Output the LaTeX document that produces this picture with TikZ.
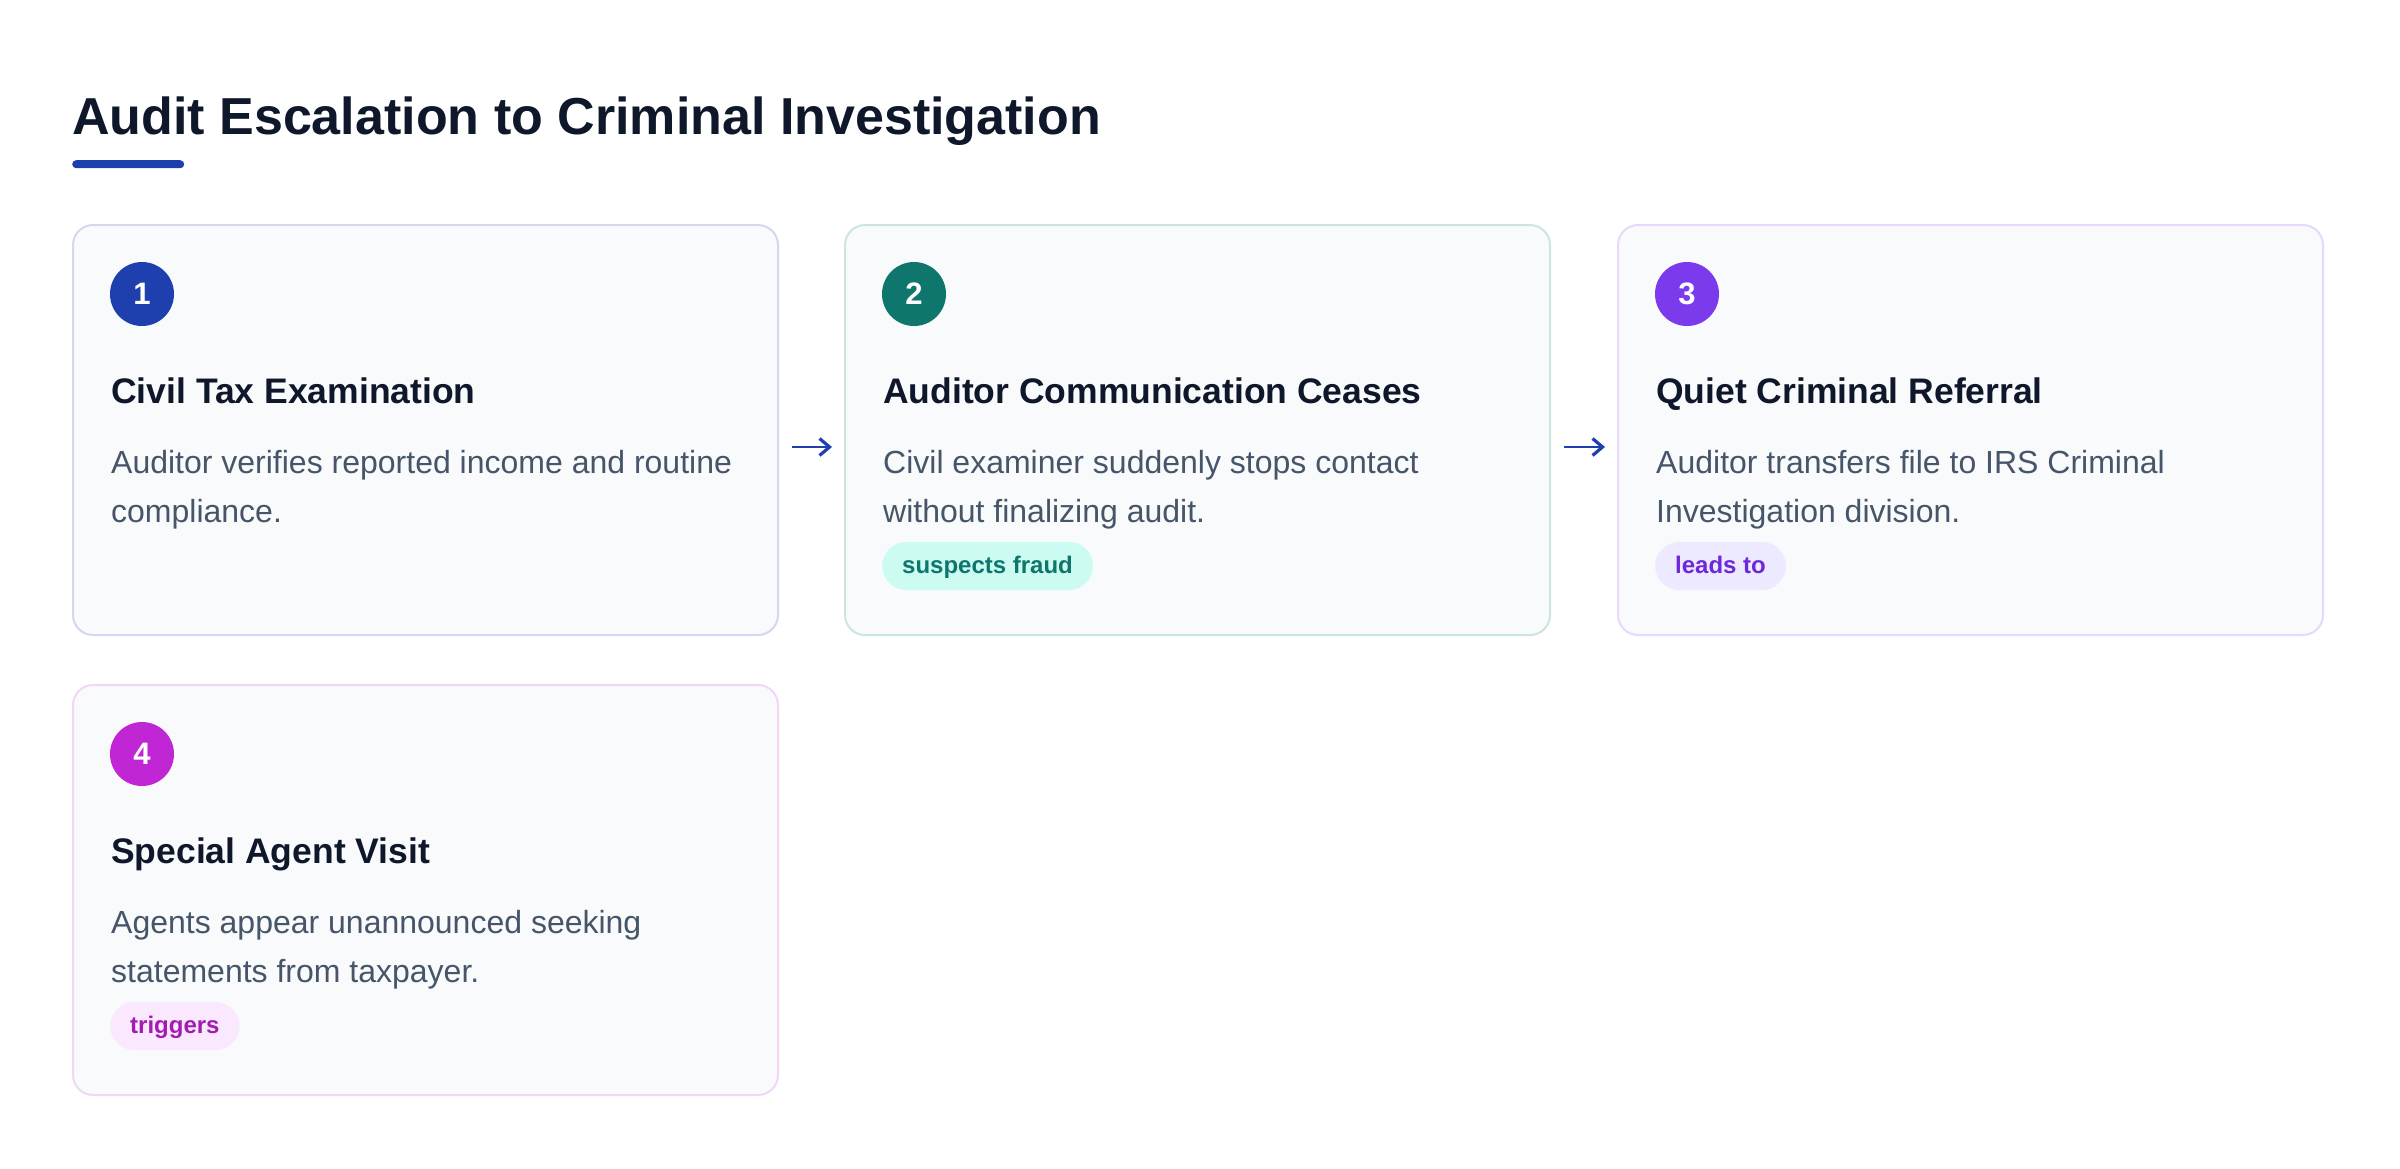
\documentclass[tikz,border=0pt]{standalone}
\usepackage{fontspec}
\setmainfont{Liberation Sans}
\usetikzlibrary{arrows.meta}
\definecolor{ink}{HTML}{0F172A}
\definecolor{muted}{HTML}{475569}
\definecolor{cardbg}{HTML}{F8FAFC}
\definecolor{blue1}{HTML}{1E40AF}
\definecolor{teal1}{HTML}{0F766E}
\definecolor{purp1}{HTML}{7C3AED}
\definecolor{mag1}{HTML}{C026D3}
\definecolor{bd1}{RGB}{210,217,239}
\definecolor{bd2}{RGB}{205,228,226}
\definecolor{bd3}{RGB}{229,218,251}
\definecolor{bd4}{RGB}{242,214,246}
\definecolor{tealbg}{HTML}{CCFBF1}
\definecolor{tealtx}{HTML}{0F766E}
\definecolor{purpbg}{HTML}{EDE9FE}
\definecolor{purptx}{HTML}{6D28D9}
\definecolor{magbg}{HTML}{FAE8FF}
\definecolor{magtx}{HTML}{A21CAF}
\tikzset{
  card/.style={draw=#1, line width=2pt, fill=cardbg, rounded corners=20pt,
    minimum width=705pt, minimum height=410pt, inner sep=0pt, outer sep=0pt, anchor=north west},
  numc/.style={circle, fill=#1, minimum size=64pt, inner sep=0pt, text=white,
    font=\fontsize{31}{31}\selectfont\bfseries},
  head/.style={anchor=base west, inner sep=0pt, text=ink, font=\fontsize{35.5}{43}\selectfont\bfseries},
  desc/.style={anchor=base west, inner sep=0pt, text=muted, font=\fontsize{32}{49}\selectfont},
  pill/.style={anchor=west, rounded corners=24pt, minimum height=48pt, inner xsep=20pt, inner ysep=0pt,
    text height=18pt, text depth=4pt, font=\fontsize{24}{28}\selectfont\bfseries},
  arr/.style={draw=blue1, line width=2.8pt, -{Straight Barb[length=10pt,width=17pt,line width=3.2pt]},
    shorten <=14pt, shorten >=13pt},
}
\begin{document}
\begin{tikzpicture}[x=1pt, y=-1pt]
\path[use as bounding box, fill=white] (0,0) rectangle (2400,1168);

% title
\node[anchor=base west, inner sep=0pt, text=ink, font=\fontsize{52}{62}\selectfont\bfseries]
  (title) at (72,134) {Audit Escalation to Criminal Investigation};
\node[anchor=north west, fill=blue1, rounded corners=4pt, minimum width=112pt, minimum height=8pt,
  inner sep=0pt] (bar) at (72,160) {};

% cards
\node[card=bd1] (c1) at (73,225) {};
\node[card=bd2] (c2) at (845,225) {};
\node[card=bd3] (c3) at (1618,225) {};
\node[card=bd4] (c4) at (73,685) {};

% card 1
\node[numc=blue1] (n1) at ([xshift=69pt,yshift=-69pt]c1.north west) {1};
\node[head] (h1) at ([xshift=38pt,yshift=-178pt]c1.north west) {Civil Tax Examination};
\node[desc] (d1a) at ([xshift=38pt,yshift=-248pt]c1.north west) {Auditor verifies reported income and routine};
\node[desc] (d1b) at ([xshift=38pt,yshift=-297pt]c1.north west) {compliance.};

% card 2
\node[numc=teal1] (n2) at ([xshift=69pt,yshift=-69pt]c2.north west) {2};
\node[head] (h2) at ([xshift=38pt,yshift=-178pt]c2.north west) {Auditor Communication Ceases};
\node[desc] (d2a) at ([xshift=38pt,yshift=-248pt]c2.north west) {Civil examiner suddenly stops contact};
\node[desc] (d2b) at ([xshift=38pt,yshift=-297pt]c2.north west) {without finalizing audit.};
\node[pill, fill=tealbg, text=tealtx] (p2) at ([xshift=37pt,yshift=-341pt]c2.north west) {suspects fraud};

% card 3
\node[numc=purp1] (n3) at ([xshift=69pt,yshift=-69pt]c3.north west) {3};
\node[head] (h3) at ([xshift=38pt,yshift=-178pt]c3.north west) {Quiet Criminal Referral};
\node[desc] (d3a) at ([xshift=38pt,yshift=-248pt]c3.north west) {Auditor transfers file to IRS Criminal};
\node[desc] (d3b) at ([xshift=38pt,yshift=-297pt]c3.north west) {Investigation division.};
\node[pill, fill=purpbg, text=purptx] (p3) at ([xshift=37pt,yshift=-341pt]c3.north west) {leads to};

% card 4
\node[numc=mag1] (n4) at ([xshift=69pt,yshift=-69pt]c4.north west) {4};
\node[head] (h4) at ([xshift=38pt,yshift=-178pt]c4.north west) {Special Agent Visit};
\node[desc] (d4a) at ([xshift=38pt,yshift=-248pt]c4.north west) {Agents appear unannounced seeking};
\node[desc] (d4b) at ([xshift=38pt,yshift=-297pt]c4.north west) {statements from taxpayer.};
\node[pill, fill=magbg, text=magtx] (p4) at ([xshift=37pt,yshift=-341pt]c4.north west) {triggers};

% connectors
\draw[arr] ([yshift=-17pt]c1.east) -- ([yshift=-17pt]c2.west);
\draw[arr] ([yshift=-17pt]c2.east) -- ([yshift=-17pt]c3.west);
\end{tikzpicture}
\end{document}
